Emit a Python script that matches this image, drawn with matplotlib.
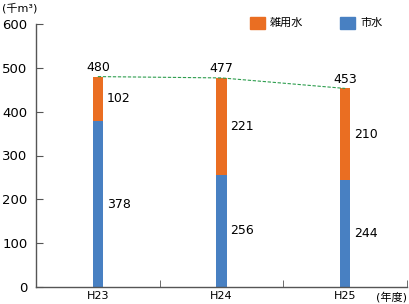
import numpy as np
from matplotlib import pyplot as plt

plt.rcParams['font.family'] = ['DejaVu Sans', 'Noto Sans CJK JP']

years = ["H23", "H24", "H25"]
city_water = [378, 256, 244]    # 市水
misc_water = [102, 221, 210]    # 雑用水
totals = [480, 477, 453]

ORANGE = "#EA6E22"
BLUE = "#4880C2"
AXIS = "#555555"

fig = plt.figure(figsize=(4.10, 3.04), dpi=100)
ax = fig.add_axes([36/410, 17/304, 371/410, 263/304])

x = np.arange(len(years))
w = 0.085
ax.bar(x, city_water, w, color=BLUE, label="市水")
ax.bar(x, misc_water, w, bottom=city_water, color=ORANGE, label="雑用水")

# trend line across the totals
ax.plot(x, totals, linestyle="--", color="#2E9E4F", linewidth=0.8, dashes=(3, 1.5))

for i in range(len(years)):
    ax.text(x[i], totals[i] + 6, str(totals[i]), ha="center", va="bottom", fontsize=9)
    ax.text(x[i] + w/2 + 0.03, city_water[i]/2, str(city_water[i]), ha="left", va="center", fontsize=9)
    ax.text(x[i] + w/2 + 0.03, city_water[i] + misc_water[i]/2, str(misc_water[i]),
            ha="left", va="center", fontsize=9)

ax.set_xlim(-0.5, 2.5)
ax.set_ylim(0, 600)
ax.set_yticks(range(0, 601, 100))
ax.set_xticks(x)
ax.set_xticklabels(years)
ax.set_xticks([0.5, 1.5, 2.5], minor=True)
ax.tick_params(axis="x", which="major", length=0, labelsize=8, pad=3)
ax.tick_params(axis="x", which="minor", direction="in", length=5, color=AXIS)
ax.tick_params(axis="y", direction="in", length=5, color=AXIS, labelsize=9.5, pad=6)

for s in ["top", "right"]:
    ax.spines[s].set_visible(False)
for s in ["left", "bottom"]:
    ax.spines[s].set_color(AXIS)
    ax.spines[s].set_linewidth(1.0)

fig.text(2/410, 1 - 8/304, "(千m³)", ha="left", va="center", fontsize=8)
fig.text(1 - 3/410, 1 - 297/304, "(年度)", ha="right", va="center", fontsize=8)

# legend drawn by hand as patches + text in figure coords
fig.patches.append(plt.Rectangle((250/410, 1 - 29/304), 15/410, 12/304,
                                 transform=fig.transFigure, color=ORANGE))
fig.text(270/410, 1 - 23/304, "雑用水", ha="left", va="center", fontsize=8)
fig.patches.append(plt.Rectangle((340/410, 1 - 29/304), 15/410, 12/304,
                                 transform=fig.transFigure, color=BLUE))
fig.text(360/410, 1 - 23/304, "市水", ha="left", va="center", fontsize=8)

fig.savefig("out.png", dpi=100)
